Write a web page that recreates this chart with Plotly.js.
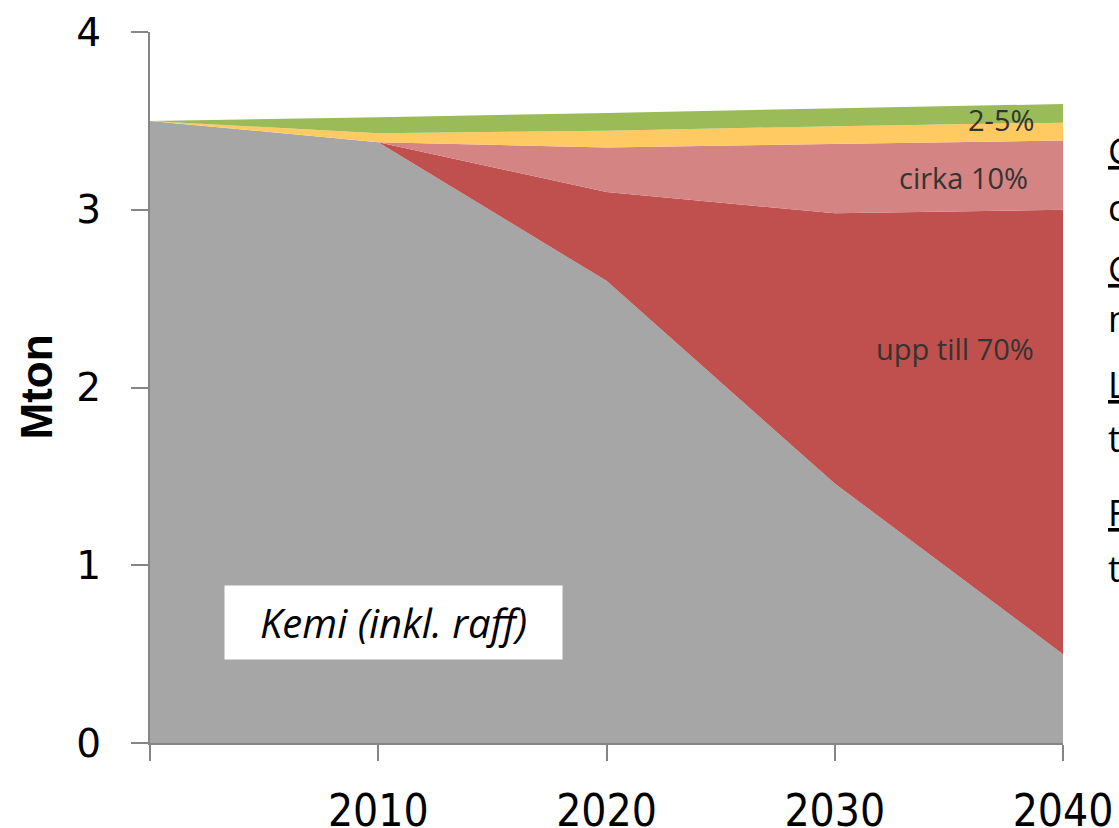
<!DOCTYPE html>
<html>
<head>
<meta charset="utf-8">
<script src="https://cdn.plot.ly/plotly-3.0.1.min.js"></script>
<style>html,body{margin:0;padding:0;background:#fff;}#chart{width:1119px;height:828px;}</style>
</head>
<body>
<div id="chart"></div>
<script>
// Data (Mton), stacked increments
var years = [2000, 2010, 2020, 2030, 2040];
var kemi = [3.5, 3.38, 2.6, 1.46, 0.5];          // grey
var upp70 = [0, 0, 0.5, 1.52, 2.5];             // dark red
var cirka10 = [0, 0, 0.25, 0.39, 0.39];         // light red
var gul = [0, 0.05, 0.095, 0.10, 0.10];         // yellow
var gron = [0, 0.09, 0.10, 0.10, 0.105];        // green
var xTickVals = [2000, 2010, 2020, 2030, 2040];
var xTickText = ['', '2010', '2020', '2030', '2040'];
var yTickVals = [0, 1, 2, 3, 4];

var series = [
  {name: 'Kemi (inkl. raff)', y: kemi, color: '#A6A6A6'},
  {name: 'upp till 70%', y: upp70, color: '#C0504D'},
  {name: 'cirka 10%', y: cirka10, color: '#D38483'},
  {name: 'gul', y: gul, color: '#FFCA62'},
  {name: 'grön', y: gron, color: '#9BBB59'}
];

var traces = series.map(function(s){
  return {
    type: 'scatter', x: years, y: s.y, name: s.name,
    stackgroup: 'one', mode: 'lines',
    line: {width: 0, color: s.color}, fillcolor: s.color,
    hoverinfo: 'skip'
  };
});

var axisColor = '#868686';
var labelFont = "Open Sans, sans-serif";

var annotations = [
  {text: '2-5%', x: 2040, y: 3.5, xref: 'x', yref: 'y', xshift: -62, yshift: 1, showarrow: false,
   font: {family: labelFont, size: 29, color: '#333333'}},
  {text: 'cirka 10%', x: 2040, y: 3.18, xref: 'x', yref: 'y', xshift: -100, showarrow: false,
   font: {family: labelFont, size: 29, color: '#333333'}},
  {text: 'upp till 70%', x: 2040, y: 2.22, xref: 'x', yref: 'y', xshift: -108, showarrow: false,
   font: {family: labelFont, size: 29, color: '#333333'}},
  {text: '<i>Kemi (inkl. raff)</i>', x: 2010.68, y: 0.68, xref: 'x', yref: 'y', showarrow: false,
   width: 337, height: 73, bgcolor: '#FFFFFF', borderpad: 0,
   font: {family: labelFont, size: 40, color: '#000000'}},
  {text: '<b>Mton</b>', xref: 'paper', yref: 'paper', x: 0, y: 0.5, xanchor: 'center', yanchor: 'middle',
   xshift: -114, textangle: -90,
   showarrow: false, font: {family: 'Liberation Sans, Arial, sans-serif', size: 44, color: '#000000'}}
];

// right-edge text, cut off by the picture border
var edge = [
  ['<u>C</u>', 150], ['c', 207], ['<u>G</u>', 268], ['n', 318],
  ['<u>L</u>', 384], ['t', 438], ['<u>F</u>', 512], ['t', 568]
];
edge.forEach(function(e){
  annotations.push({text: e[0], xref: 'paper', yref: 'paper', x: 1, y: 1, xanchor: 'left', yanchor: 'middle',
    xshift: 43, yshift: -(e[1] - 32), showarrow: false,
    font: {family: labelFont, size: 36, color: '#000000'}});
});

var layout = {
  width: 1119, height: 828,
  margin: {l: 150, r: 56, t: 32, b: 85, pad: 0},
  paper_bgcolor: '#FFFFFF', plot_bgcolor: '#FFFFFF',
  showlegend: false,
  xaxis: {
    range: [2000, 2040], tickmode: 'array', tickvals: xTickVals, ticktext: xTickText,
    showgrid: false, zeroline: false, showline: true, linecolor: axisColor, linewidth: 2,
    ticks: 'outside', ticklen: 16, tickwidth: 2, tickcolor: axisColor,
    ticklabelstandoff: 12, ticklabeloverflow: 'allow', automargin: false,
    tickfont: {family: "'Liberation Sans Narrow', 'DejaVu Sans Condensed', 'Open Sans', sans-serif", size: 44, color: '#000000'}
  },
  yaxis: {
    range: [0, 4], tickmode: 'array', tickvals: yTickVals,
    showgrid: false, zeroline: false, showline: true, linecolor: axisColor, linewidth: 2,
    ticks: 'outside', ticklen: 17, tickwidth: 2, tickcolor: axisColor,
    ticklabelstandoff: 22, automargin: false,
    tickfont: {family: "'DejaVu Sans', sans-serif", size: 39, color: '#000000'}
  },
  annotations: annotations
};

Plotly.newPlot('chart', traces, layout, {displayModeBar: false, staticPlot: true});
</script>
</body>
</html>
